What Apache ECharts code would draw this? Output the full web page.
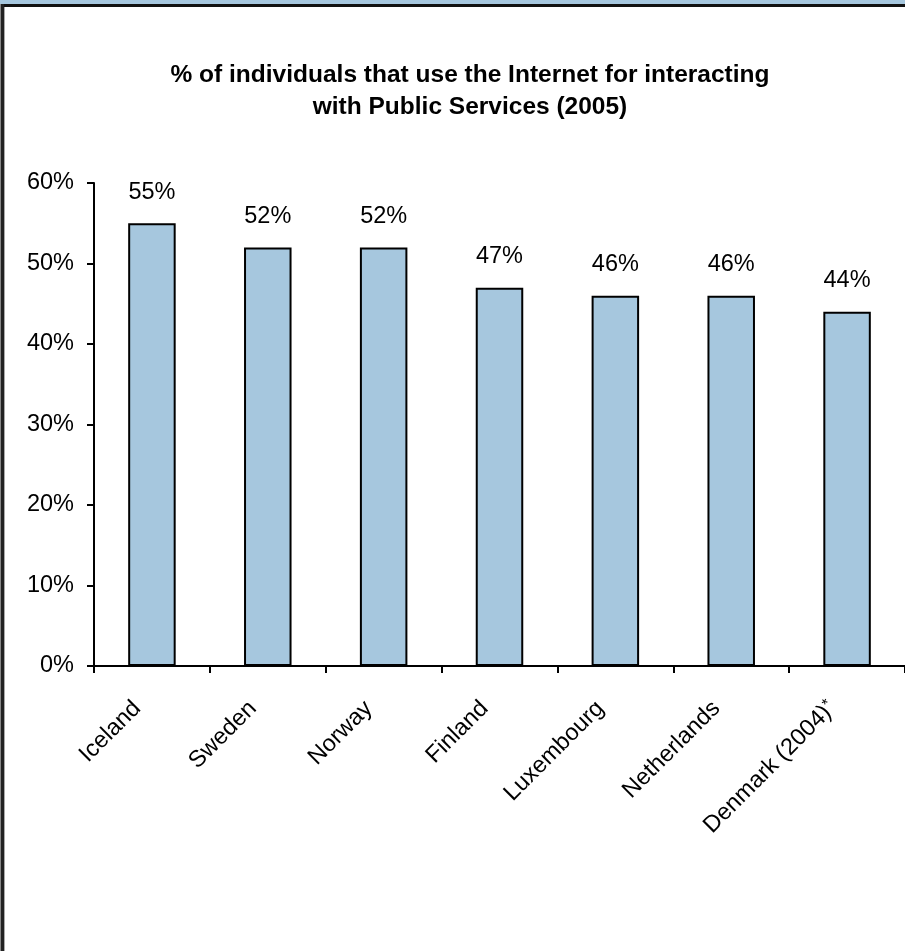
<!DOCTYPE html>
<html>
<head>
<meta charset="utf-8">
<style>
  html, body { margin: 0; padding: 0; background: #fff; }
  #chart { width: 905px; height: 951px; }
</style>
<script src="https://cdn.jsdelivr.net/npm/echarts@6/dist/echarts.min.js"></script>
</head>
<body>
<div id="chart"></div>
<script>
// Share of individuals using the Internet to interact with public services, 2005
const countries = ['Iceland', 'Sweden', 'Norway', 'Finland', 'Luxembourg', 'Netherlands', 'Denmark (2004)*'];
const shares = [55, 52, 52, 47, 46, 46, 44];
const yTicks = { min: 0, max: 60, interval: 10 };

const FONT = '"Liberation Sans", Arial, sans-serif';
const BAR_FILL = '#A6C7DE';

const chart = echarts.init(document.getElementById('chart'), null, { renderer: 'canvas' });

chart.setOption({
  backgroundColor: '#ffffff',
  animation: false,
  title: {
    text: '% of individuals that use the Internet for interacting\nwith Public Services (2005)',
    left: 470,
    top: 59,
    textAlign: 'center',
    padding: 0,
    textStyle: {
      fontFamily: FONT,
      fontSize: 24.5,
      fontWeight: 'bold',
      color: '#000',
      lineHeight: 32
    }
  },
  grid: {
    left: 94,
    right: -3,
    top: 183,
    bottom: 285,
    containLabel: false
  },
  xAxis: {
    type: 'category',
    data: countries,
    boundaryGap: true,
    axisLine: { show: true, lineStyle: { color: '#000', width: 2 } },
    axisTick: { show: true, length: 7, inside: false, alignWithLabel: false, lineStyle: { color: '#000', width: 2 } },
    axisLabel: {
      interval: 0,
      rotate: 45,
      margin: 24,
      padding: [0, 21, 0, 0],
      fontFamily: FONT,
      fontSize: 23.5,
      color: '#000',
      formatter: function (name) {
        if (name.endsWith('*')) {
          return '{a|' + name.slice(0, -1) + '}{s|*}';
        }
        return name;
      },
      rich: {
        a: { fontFamily: FONT, fontSize: 23.5, color: '#000' },
        s: { fontFamily: FONT, fontSize: 16, color: '#000', verticalAlign: 'top' }
      }
    },
    splitLine: { show: false }
  },
  yAxis: {
    type: 'value',
    min: yTicks.min,
    max: yTicks.max,
    interval: yTicks.interval,
    axisLine: { show: true, lineStyle: { color: '#000', width: 2 } },
    axisTick: { show: true, length: 7, inside: false, lineStyle: { color: '#000', width: 2 } },
    axisLabel: {
      margin: 20,
      fontFamily: FONT,
      fontSize: 23.5,
      color: '#000',
      formatter: '{value}%'
    },
    splitLine: { show: false }
  },
  series: [{
    type: 'bar',
    data: shares,
    barWidth: '41%',
    itemStyle: { color: BAR_FILL, borderColor: '#000', borderWidth: 2 },
    label: {
      show: true,
      position: 'top',
      distance: 19,
      formatter: '{c}%',
      fontFamily: FONT,
      fontSize: 23.5,
      color: '#000'
    }
  }],
  graphic: [
    // frame: blue band with dark rule along the top, double rule on the left
    { type: 'rect', silent: true, shape: { x: 0, y: 0, width: 905, height: 4 }, style: { fill: BAR_FILL } },
    { type: 'rect', silent: true, shape: { x: 0, y: 4, width: 905, height: 3 }, style: { fill: '#111' } },
    { type: 'rect', silent: true, shape: { x: 0, y: 4, width: 1, height: 947 }, style: { fill: '#888' } },
    { type: 'rect', silent: true, shape: { x: 1, y: 4, width: 3, height: 947 }, style: { fill: '#222' } },
    { type: 'rect', silent: true, shape: { x: 4, y: 7, width: 1, height: 944 }, style: { fill: '#aaa' } }
  ]
});
</script>
</body>
</html>
